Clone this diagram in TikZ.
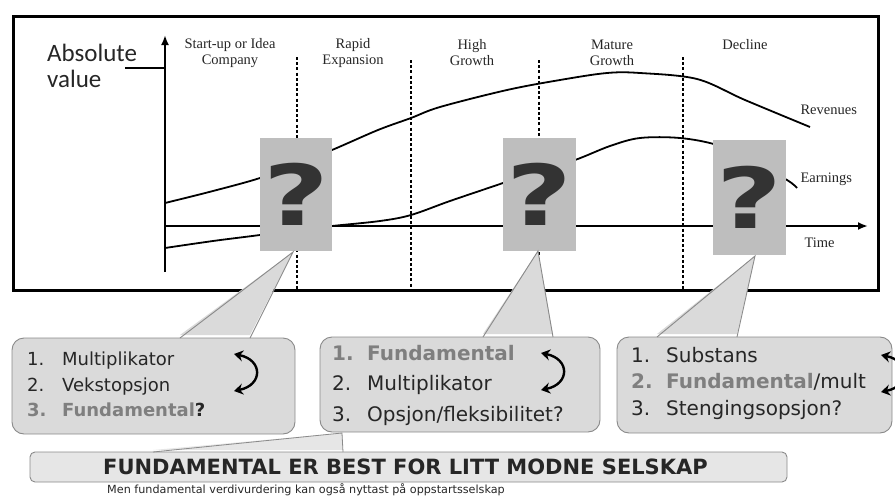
\documentclass[tikz,border=0pt]{standalone}
\usepackage{fontspec}
\setmainfont{Liberation Serif}
\newfontfamily\calibrifont{Carlito}
\newfontfamily\verdanafont{DejaVu Sans}
\usetikzlibrary{arrows.meta}
\definecolor{qgray}{HTML}{BEBEBE}
\definecolor{bubblegray}{HTML}{DADADA}
\definecolor{edgegray}{HTML}{8A8A8A}
\definecolor{fadetext}{HTML}{7F7F7F}
\definecolor{qmark}{HTML}{333333}
\definecolor{bannergray}{HTML}{E6E6E6}
\definecolor{darktext}{HTML}{262626}
\newcommand{\nr}[1]{\makebox[35pt][l]{#1}}
\newcommand{\fade}[1]{{\color{fadetext}\bfseries #1}}

\begin{document}
\begin{tikzpicture}[x=1pt,y=-1pt,
    axis/.style={line width=2.4pt, -{Latex[length=10pt,width=8pt]}},
    curve/.style={line width=1.8pt, smooth, tension=0.55},
    phaseline/.style={line width=1.1pt, dash pattern=on 3pt off 2.2pt},
    phase/.style={font=\fontsize{14.5}{16}\selectfont, align=center, text=black!85},
    curvelabel/.style={font=\fontsize{14.5}{15}\selectfont, anchor=west, text=black!85},
    qbox/.style={fill=qgray, inner sep=0pt, text=qmark,
      font=\verdanafont\bfseries\fontsize{84}{84}\selectfont},
    bubble/.style={draw=edgegray, fill=bubblegray, rounded corners=12pt, line width=0.9pt},
    pointer/.style={draw=edgegray, line width=0.9pt},
    swaparrow/.style={line width=2.4pt, {Stealth[length=9pt,width=11pt]}-{Stealth[length=9pt,width=11pt]}},
    itemlist/.style={anchor=north west, inner sep=0pt, align=left, text=darktext}]

  \useasboundingbox (0,0) rectangle (895,498);
  \clip (0,0) rectangle (895,498);

  % frame and axes
  \draw[line width=3pt] (13,16) rectangle (878,290);
  \coordinate (ybot) at (165,272);
  \coordinate (ytop) at (165,35);
  \coordinate (origin) at (165,226);
  \coordinate (xend) at (868,226);
  \coordinate (yref) at (165,68);
  \draw[axis] (ybot) -- (ytop);
  \draw[axis] (origin) -- (xend);

  \node[font=\calibrifont\fontsize{25}{26}\selectfont, align=left, anchor=north west,
    inner sep=0pt, text=darktext] (absval) at (47,44) {Absolute\\value};
  \coordinate (absref) at (125,68);
  \draw[line width=1.1pt] (absref) -- (yref);

  % phases
  \foreach \px/\ptop in {297/57, 411/60, 539/60, 683/57}
    \draw[phaseline] (\px,\ptop) -- (\px,290);
  \node[phase] (startup) at (230,53) {Start-up or Idea\\Company};
  \node[phase] (rapid) at (353,53) {Rapid\\Expansion};
  \node[phase] (high) at (472,53) {High\\Growth};
  \node[phase] (mature) at (612,53) {Mature\\Growth};
  \node[phase] (decline) at (745,45) {Decline};

  % revenues and earnings
  \draw[curve] plot coordinates {(165,203) (213,191) (260,178) (296,164) (332,150)
    (378,130) (411,118) (440,107) (507,90) (560,80) (607,73) (640,73) (697,79)
    (745,100) (810,127)};
  \draw[curve] plot coordinates {(165,248) (213,241) (260,235) (296,230) (332,226)
    (380,221) (411,215) (450,201) (503,183) (540,170) (575,160) (610,146)
    (640,138) (680,138) (717,145) (750,160) (787,180) (797,188)};
  \node[curvelabel] (rev) at (797,110) {Revenues};
  \node[curvelabel] (earn) at (797,179) {Earnings};
  \node[curvelabel] (time) at (801,243) {Time};

  % question boxes
  \node[qbox, minimum width=72pt, minimum height=113pt] (q1) at (296,194.5) {\scalebox{1.35}[1]{?}};
  \node[qbox, minimum width=73pt, minimum height=113pt] (q2) at (539.5,194.5) {\scalebox{1.35}[1]{?}};
  \node[qbox, minimum width=73pt, minimum height=115pt] (q3) at (749.5,197.5) {\scalebox{1.35}[1]{?}};

  % bubbles
  \node[bubble, minimum width=283pt, minimum height=96pt] (b1) at (153.5,386) {};
  \node[bubble, minimum width=280pt, minimum height=95pt] (b2) at (460,384.5) {};
  \node[bubble, minimum width=275pt, minimum height=96pt] (b3) at (754.5,385) {};

  \coordinate (p1l) at (180,338); \coordinate (p1r) at (250,338); \coordinate (p1t) at (293,252);
  \coordinate (p2l) at (483,337); \coordinate (p2r) at (553,337); \coordinate (p2t) at (538,251);
  \coordinate (p3l) at (657,337); \coordinate (p3r) at (737,337); \coordinate (p3t) at (755,256);
  \foreach \i in {1,2,3} {
    \fill[bubblegray] ([yshift=3pt]p\i l) -- (p\i t) -- ([yshift=3pt]p\i r) -- cycle;
    \draw[pointer] (p\i l) -- (p\i t) -- (p\i r);
  }

  \node[itemlist, font=\verdanafont\fontsize{18}{25.5}\selectfont] (list1) at (27,352)
    {\nr{1.}Multiplikator\\ \nr{2.}Vekstopsjon\\ \fade{\nr{3.}Fundamental}\textbf{?}};
  \node[itemlist, font=\verdanafont\fontsize{20}{30.5}\selectfont] (list2) at (332,345)
    {\fade{\nr{1.}Fundamental}\\ \nr{2.}Multiplikator\\ \nr{3.}Opsjon/fleksibilitet?};
  \node[itemlist, font=\verdanafont\fontsize{20}{26.5}\selectfont] (list3) at (631,347)
    {\nr{1.}Substans\\ \fade{\nr{2.}Fundamental}/mult\\ \nr{3.}Stengingsopsjon?};

  \coordinate (s1a) at (234,354); \coordinate (s1b) at (234,391);
  \coordinate (s2a) at (541,353); \coordinate (s2b) at (541,390);
  \coordinate (s3a) at (881,355); \coordinate (s3b) at (881,392);
  \draw[swaparrow] (s1a) .. controls (263,360) and (263,385) .. (s1b);
  \draw[swaparrow] (s2a) .. controls (570,359) and (570,384) .. (s2b);
  \draw[swaparrow] (s3a) .. controls (910,361) and (910,386) .. (s3b);

  % conclusion
  \node[draw=edgegray, fill=bannergray, rounded corners=5pt, line width=0.9pt,
    minimum width=757pt, minimum height=30pt, inner sep=0pt, text=darktext,
    font=\verdanafont\bfseries\fontsize{21}{21}\selectfont] (banner) at (408.5,467)
    {\hspace*{-6pt}FUNDAMENTAL ER BEST FOR LITT MODNE SELSKAP};
  \coordinate (p4l) at (153,452); \coordinate (p4r) at (343,452); \coordinate (p4t) at (342,433);
  \fill[bannergray] ([yshift=2pt]p4l) -- (p4t) -- ([yshift=2pt]p4r) -- cycle;
  \draw[pointer, line width=0.8pt] (p4l) -- (p4t) -- (p4r);
  \node[font=\verdanafont\fontsize{11.2}{12}\selectfont, inner sep=0pt, text=darktext] (note) at (306,490)
    {Men fundamental verdivurdering kan også nyttast på oppstartsselskap};
\end{tikzpicture}
\end{document}
